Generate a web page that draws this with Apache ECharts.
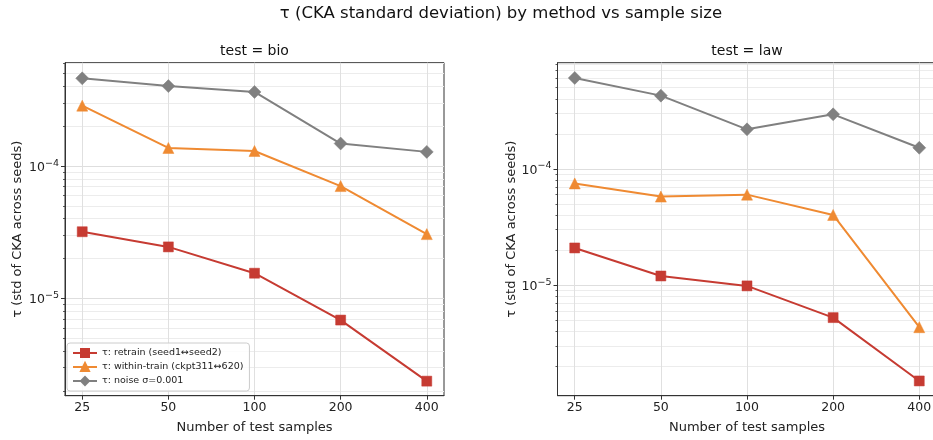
<!DOCTYPE html>
<html><head><meta charset="utf-8">
<script src="https://cdn.jsdelivr.net/npm/echarts@6/dist/echarts.min.js"></script>
<style>html,body{margin:0;padding:0;background:#fff}#c{width:933px;height:440px}</style>
</head><body><div id="c"></div>
<script>
// ---------------- data ----------------
const sampleSizes = [25, 50, 100, 200, 400];
const xTickLabels = ['25', '50', '100', '200', '400'];
const panelTitles = ['test = bio', 'test = law'];
const seriesNames = ['τ: retrain (seed1↔seed2)', 'τ: within-train (ckpt311↔620)', 'τ: noise σ=0.001'];

const bioRetrain = [3.19e-5, 2.45e-5, 1.55e-5, 6.86e-6, 2.37e-6];
const bioWithin  = [2.86e-4, 1.37e-4, 1.30e-4, 7.06e-5, 3.06e-5];
const bioNoise   = [4.60e-4, 4.02e-4, 3.63e-4, 1.48e-4, 1.28e-4];

const lawRetrain = [2.09e-5, 1.20e-5, 9.86e-6, 5.26e-6, 1.50e-6];
const lawWithin  = [7.50e-5, 5.78e-5, 6.01e-5, 4.02e-5, 4.35e-6];
const lawNoise   = [6.06e-4, 4.27e-4, 2.19e-4, 2.95e-4, 1.52e-4];

const yMajorTicks = [1e-5, 1e-4];
const yMajorBase = '10';
const yMajorExponents = ['−5', '−4'];
const yMinorTicks = [2e-6, 3e-6, 4e-6, 5e-6, 6e-6, 7e-6, 8e-6, 9e-6,
                     2e-5, 3e-5, 4e-5, 5e-5, 6e-5, 7e-5, 8e-5, 9e-5,
                     2e-4, 3e-4, 4e-4, 5e-4, 6e-4, 7e-4, 8e-4, 9e-4];

// ---------------- style / layout ----------------
const colors = ['#c63b32', '#ef8a32', '#808080'];
const symbols = ['rect', 'triangle', 'diamond'];
const symbolSizes = [10, 11, 13];
const yRanges = [[1.84e-6, 6.04e-4], [1.12e-6, 8.2e-4]];
const gridLefts = [65, 557.5];
const gridTop = 62.7, gridH = 333, gridW = 379;
const yNameGaps = [41, 37];
const FONT = 'DejaVu Sans';

const panelData = [[bioRetrain, bioWithin, bioNoise], [lawRetrain, lawWithin, lawNoise]];

function fmtY(v) {
  for (let i = 0; i < yMajorTicks.length; i++) {
    if (Math.abs(v / yMajorTicks[i] - 1) < 1e-6) return '{b|' + yMajorBase + '}{s|' + yMajorExponents[i] + '}';
  }
  return '';
}
function fmtX(v) {
  for (let i = 0; i < sampleSizes.length; i++) {
    if (Math.abs(v / sampleSizes[i] - 1) < 1e-6) return xTickLabels[i];
  }
  return '';
}

const grids = [], xAxes = [], yAxes = [], series = [], graphics = [];
const xMin = sampleSizes[0] / Math.pow(2, 0.2);
const xMax = sampleSizes[sampleSizes.length - 1] * Math.pow(2, 0.2);

for (let g = 0; g < 2; g++) {
  grids.push({left: gridLefts[g], top: gridTop, width: gridW, height: gridH,
    outerBoundsMode: 'none',
    show: true, borderColor: '#333', borderWidth: 1, backgroundColor: 'rgba(0,0,0,0)', containLabel: false});
  xAxes.push({type: 'log', logBase: 2, gridIndex: g, min: xMin, max: xMax,
    axisLine: {show: true, lineStyle: {color: '#333', width: 1}},
    axisTick: {show: true, length: 4, customValues: sampleSizes, lineStyle: {color: '#333'}},
    axisLabel: {customValues: sampleSizes, formatter: fmtX, fontSize: 12.5, color: '#222', margin: 6, fontFamily: FONT},
    splitLine: {show: true, lineStyle: {color: '#e0e0e0', width: 1}},
    minorTick: {show: false}, minorSplitLine: {show: false},
    name: 'Number of test samples', nameLocation: 'middle', nameGap: 25,
    nameTextStyle: {fontSize: 13, color: '#222', fontFamily: FONT}});
  yAxes.push({type: 'log', logBase: 10, gridIndex: g, min: yRanges[g][0], max: yRanges[g][1], position: 'left',
    axisLine: {show: true, lineStyle: {color: '#333', width: 1}},
    axisTick: {show: true, length: 4, customValues: yMajorTicks, lineStyle: {color: '#333'}},
    axisLabel: {customValues: yMajorTicks, formatter: fmtY, color: '#222', margin: 6, fontFamily: FONT,
      rich: {
        b: {fontSize: 12.5, lineHeight: 16, verticalAlign: 'bottom', color: '#222', fontFamily: FONT},
        s: {fontSize: 9.5, lineHeight: 9, verticalAlign: 'top', color: '#222', fontFamily: FONT}
      }},
    splitLine: {show: true, lineStyle: {color: '#dedede', width: 1}},
    minorTick: {show: false}, minorSplitLine: {show: false},
    name: 'τ (std of CKA across seeds)', nameLocation: 'middle', nameGap: yNameGaps[g],
    nameTextStyle: {fontSize: 13, color: '#222', fontFamily: FONT}});
  yAxes.push({type: 'log', logBase: 10, gridIndex: g, min: yRanges[g][0], max: yRanges[g][1], position: 'left',
    axisLine: {show: false},
    axisTick: {show: true, length: 2, customValues: yMinorTicks, lineStyle: {color: '#333', width: 0.8}},
    axisLabel: {show: false},
    splitLine: {show: true, lineStyle: {color: '#ececec', width: 1}},
    minorTick: {show: false}, minorSplitLine: {show: false}});
  panelData[g].forEach((vals, k) => {
    series.push({name: seriesNames[k], type: 'line', xAxisIndex: g, yAxisIndex: g * 2,
      data: sampleSizes.map((s, i) => [s, vals[i]]),
      symbol: symbols[k], symbolSize: symbolSizes[k],
      lineStyle: {color: colors[k], width: 2},
      itemStyle: {color: colors[k], borderColor: colors[k], borderWidth: 0.5},
      emphasis: {disabled: true}, z: 3 + k});
  });
  graphics.push({type: 'text', x: gridLefts[g] + gridW / 2, y: 51,
    style: {text: panelTitles[g], fontSize: 14, fontFamily: FONT, fill: '#111', textAlign: 'center', textVerticalAlign: 'middle'}});
}
graphics.push({type: 'text', x: 501, y: 14,
  style: {text: 'τ (CKA standard deviation) by method vs sample size', fontSize: 16.5, fontFamily: FONT, fill: '#111', textAlign: 'center', textVerticalAlign: 'middle'}});

const chart = echarts.init(document.getElementById('c'), null, {renderer: 'canvas'});
chart.setOption({
  animation: false,
  backgroundColor: '#fff',
  textStyle: {fontFamily: FONT},
  grid: grids, xAxis: xAxes, yAxis: yAxes, series: series,
  graphic: graphics,
  legend: {data: seriesNames, orient: 'vertical', left: 67, top: 343,
    itemWidth: 24, itemHeight: 10, itemGap: 4, padding: [5, 6, 5, 5],
    textStyle: {fontSize: 9.5, color: '#222', fontFamily: FONT},
    backgroundColor: 'rgba(255,255,255,0.85)', borderColor: '#cccccc', borderWidth: 1, borderRadius: 3,
    selectedMode: false}
});
</script></body></html>
